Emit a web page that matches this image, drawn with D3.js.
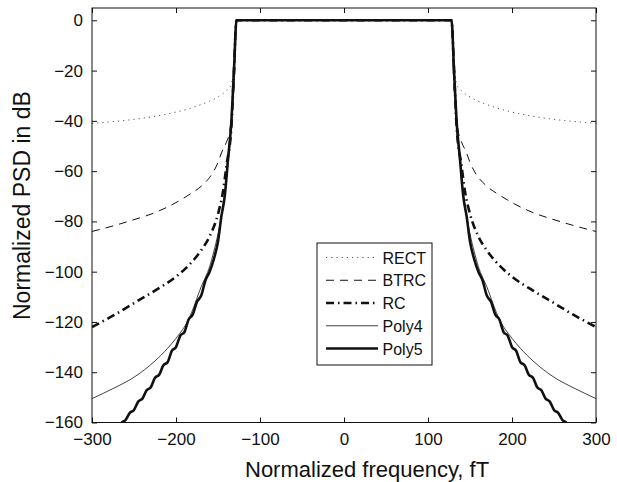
<!DOCTYPE html>
<html>
<head>
<meta charset="utf-8">
<script src="https://cdn.jsdelivr.net/npm/d3@7"></script>
<style>
  body { margin: 0; background: #fff; }
  text { font-family: "Liberation Sans", Arial, sans-serif; fill: #111; }
</style>
</head>
<body>
<svg width="617" height="482"></svg>
<script>
var svg = d3.select("svg"),
  width = +svg.attr("width"),
  height = +svg.attr("height");

// One-sided spectra (f >= 0), mirrored for f < 0
var rectF  = [0, 128, 130, 132, 134, 140, 150, 160, 170, 185, 200, 225, 250, 275, 300];
var rectDb = [0, 0, -12, -20, -25.5, -28, -30.5, -32.2, -33.5, -35.2, -36.5, -38.2, -39.4, -40.3, -41];

var btrcF  = [0, 128, 130, 133, 136, 140, 145, 150, 155, 160, 170, 185, 200, 225, 250, 275, 300];
var btrcDb = [0, 0, -20, -35, -44, -48.5, -52, -56.5, -60, -62.5, -66, -69.5, -72.5, -76.5, -79.3, -81.8, -84];

var rcF  = [0, 128, 131, 134, 140, 144, 150, 160, 170, 185, 200, 225, 250, 275, 300];
var rcDb = [0, 0, -20, -42, -58, -68, -77, -86, -91.5, -97.5, -102, -107.5, -112.5, -117.5, -122];

var poly4F  = [0, 128, 131, 134, 138, 142, 146, 150, 155, 160, 170, 185, 200, 210, 225, 250, 275, 300];
var poly4Db = [0, 0, -20, -40, -55, -70, -78, -85, -92, -98, -106, -119, -126.5, -130.5, -135.5, -142, -146.5, -150.5];

var poly5F  = [0, 128, 131, 134, 138, 142, 146, 150, 155, 160, 165, 170, 175, 180, 185, 190, 195, 200, 205, 210, 215, 220, 225, 230, 235, 240, 245, 250, 255, 260, 265, 270, 275];
var poly5Db = [0, 0, -20, -40, -55, -70, -78, -88, -95, -100, -103.5, -109.5, -112, -117, -119, -124, -125.5, -130, -131.5, -136, -137.2, -141, -142.2, -146, -147.2, -150.5, -151.7, -155, -156.2, -159, -160.2, -163, -164];

var seriesNames = ["RECT", "BTRC", "RC", "Poly4", "Poly5"];
var xTicks = [-300, -200, -100, 0, 100, 200, 300];
var yTicks = [0, -20, -40, -60, -80, -100, -120, -140, -160];

var styles = {
  RECT:  { w: 1,   dash: "1.2,4", color: "#555" },
  BTRC:  { w: 1,   dash: "8,6",   color: "#111" },
  RC:    { w: 2.6, dash: "8,4,1.5,4", color: "#111" },
  Poly4: { w: 0.8, dash: null,    color: "#111" },
  Poly5: { w: 2.6, dash: null,    color: "#111" }
};

function mirror(f, v) {
  var pts = f.map(function(d, i) { return [d, v[i]]; });
  var neg = pts.slice(1).reverse().map(function(p) { return [-p[0], p[1]]; });
  return neg.concat(pts);
}

var series = [
  { name: "RECT",  pts: mirror(rectF, rectDb) },
  { name: "BTRC",  pts: mirror(btrcF, btrcDb) },
  { name: "RC",    pts: mirror(rcF, rcDb) },
  { name: "Poly4", pts: mirror(poly4F, poly4Db) },
  { name: "Poly5", pts: mirror(poly5F, poly5Db) }
];

var pL = 92, pR = 596, pT = 8, pB = 422.5;

var x = d3.scaleLinear().domain([-300, 300]).range([pL, pR]);
var y = d3.scaleLinear().domain([-160, 4.9]).range([pB, pT]);

svg.append("clipPath").attr("id", "clip")
  .append("rect").attr("x", pL).attr("y", pT)
  .attr("width", pR - pL).attr("height", pB - pT);

var line = d3.line()
  .x(function(d) { return x(d[0]); })
  .y(function(d) { return y(d[1]); })
  .curve(d3.curveMonotoneX);

svg.append("g").attr("clip-path", "url(#clip)")
  .selectAll("path")
  .data(series)
  .enter()
  .append("path")
    .attr("d", function(d) { return line(d.pts); })
    .attr("fill", "none")
    .attr("stroke", function(d) { return styles[d.name].color; })
    .attr("stroke-width", function(d) { return styles[d.name].w; })
    .attr("stroke-dasharray", function(d) { return styles[d.name].dash; });

// axes, ticks pointing inward
function styleAxis(g) {
  g.select(".domain").remove();
  g.selectAll(".tick line").attr("stroke", "#111");
  g.selectAll(".tick text").attr("font-size", 17).attr("fill", "#111")
    .attr("font-family", "Liberation Sans, Arial, sans-serif");
}

svg.append("g").attr("transform", "translate(0," + pB + ")")
  .call(d3.axisBottom(x).tickValues(xTicks).tickSize(-5).tickPadding(10.5))
  .call(styleAxis);
svg.append("g").attr("transform", "translate(0," + pT + ")")
  .call(d3.axisTop(x).tickValues(xTicks).tickSize(-5).tickFormat(""))
  .call(styleAxis);
svg.append("g").attr("transform", "translate(" + pL + ",0)")
  .call(d3.axisLeft(y).tickValues(yTicks).tickSize(-5).tickPadding(9))
  .call(styleAxis);
svg.append("g").attr("transform", "translate(" + pR + ",0)")
  .call(d3.axisRight(y).tickValues(yTicks).tickSize(-5).tickFormat(""))
  .call(styleAxis);

svg.append("rect")
  .attr("x", pL).attr("y", pT)
  .attr("width", pR - pL).attr("height", pB - pT)
  .attr("fill", "none").attr("stroke", "#111").attr("stroke-width", 1);

// axis titles
svg.append("text")
  .attr("x", 245).attr("y", 477)
  .attr("font-size", 22)
  .text("Normalized frequency, fT");
svg.append("text")
  .attr("transform", "translate(30,320) rotate(-90)")
  .attr("font-size", 23)
  .text("Normalized PSD in dB");

// legend
var lg = svg.append("g").attr("transform", "translate(317,243)");
lg.append("rect").attr("width", 115).attr("height", 122)
  .attr("fill", "#fff").attr("stroke", "#111").attr("stroke-width", 1);
var items = lg.selectAll("g.item").data(seriesNames).enter()
  .append("g").attr("class", "item")
  .attr("transform", function(d, i) { return "translate(0," + (14.5 + i * 22.75) + ")"; });
items.append("line")
  .attr("x1", 9).attr("x2", 61)
  .attr("stroke", function(d) { return styles[d].color; })
  .attr("stroke-width", function(d) { return styles[d].w; })
  .attr("stroke-dasharray", function(d) { return styles[d].dash; });
items.append("text")
  .attr("x", 65.5).attr("y", 6)
  .attr("font-size", 16)
  .text(function(d) { return d; });
</script>
</body>
</html>
